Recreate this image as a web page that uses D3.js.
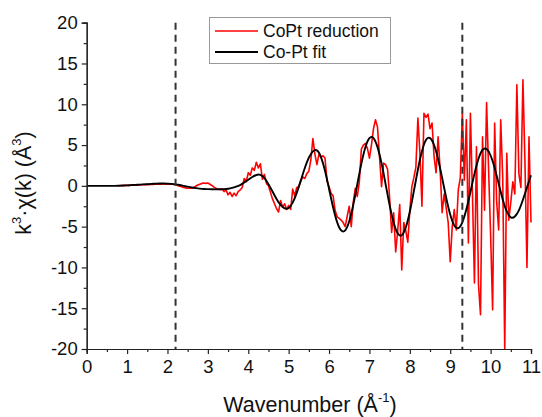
<!DOCTYPE html>
<html>
<head>
<meta charset="utf-8">
<script src="https://cdn.jsdelivr.net/npm/d3@7/dist/d3.min.js"></script>
<style>
  body { margin: 0; background: #fff; }
  text { font-family: Arial, "Liberation Sans", sans-serif; fill: #111; }
</style>
</head>
<body>
<svg id="chart" width="542" height="417"></svg>
<script>
// Measured EXAFS signal, sampled on a uniform k grid
const reductionStart = 0.8;
const reductionStep = 0.05;
const reductionValues = [
  0.02, 0.05, 0.03, 0.06, 0.08, 0.05, 0.10, 0.07, 0.12, 0.09,
  0.14, 0.11, 0.16, 0.13, 0.18, 0.15, 0.20, 0.17, 0.22, 0.19,
  0.24, 0.20, 0.25, 0.21, 0.24, 0.20, 0.22, 0.18, 0.15,
  0.05, -0.05, -0.12, -0.20, -0.25, -0.30, -0.30, -0.28, -0.20, -0.05,
  0.10, 0.20, 0.30, 0.35, 0.30, 0.35, 0.20, 0.05, -0.15, -0.30,
  -0.40, -0.45, -0.40, -0.70, -0.50, -1.10, -0.80, -1.30, -0.90, -1.20,
  -0.70, -0.50,
  -0.20, 0.90, 0.50, 1.60, 1.30, 2.20, 1.90, 2.90, 2.20, 2.70, 0.80, 1.40, 0.30, 0.00,
  -0.80, -1.60, -2.20, -2.80, -3.20, -1.80, -2.60, -2.20, -2.90, -2.40, -2.90, -0.40, -1.20, -0.20,
  -0.10, 0.60, 1.10, 0.90, 1.50, 1.80, 3.20, 5.80, 3.90, 2.60,
  3.90, 3.50, 3.70, 3.40, 0.60, -0.10, -0.90, -1.20, -3.00, -3.80,
  -4.00, -4.20, -4.50, -5.00, -3.70, -2.50,
  -5.00, -2.00, -0.30, -1.30, 0.50, 4.50, 5.00, 5.20, 4.60, 3.40,
  5.00, 7.00, 8.10, 7.20, 3.50, -0.10, 2.80, 2.60, 2.00, -1.50,
  -5.70, -3.30, -8.10, -5.50, -2.30, -10.30, -4.50, -5.50, -6.90, -3.00,
  -0.10, 1.00, 2.30, 8.30, 4.00, -2.50, 8.90, 8.40, 8.80, 7.00,
  7.70, 3.60, 1.60, 6.00, 2.00, -3.30, -1.00, -2.70, -4.50, -9.30,
  -5.00, -2.90, -5.40, -0.50, 1.00, 8.90,
  0.70, 8.10, -7.00, 8.90, -0.90, -11.90, 4.80, -12.10, -15.80, 6.00,
  -3.00, 10.20, 2.00, -6.00, -15.20, 7.70, -2.00, -5.40, 8.10, 1.00,
  -20.00, 4.00, -4.20, -2.00, 0.50, -1.00, 12.40, 1.50, -0.20, 13.00,
  3.00, -10.00, 6.00, -4.50
];

// Single-shell Co-Pt model
const fitStart = 0;
const fitStep = 0.1;
const fitValues = [
  0, 0, 0, 0, 0, 0, 0, 0, 0.02, 0.04,
  0.06, 0.09, 0.12, 0.15, 0.18, 0.21, 0.24, 0.26, 0.28, 0.28,
  0.27, 0.24, 0.18, 0.10, 0.00, -0.10, -0.20, -0.28, -0.34, -0.38,
  -0.40, -0.42, -0.43, -0.42, -0.40, -0.35, -0.25, -0.10, 0.10, 0.40,
  0.75, 1.08, 1.33, 1.35, 0.94, 0.21, -0.70, -1.61, -2.34, -2.75,
  -2.71, -2.06, -0.86, 0.64, 2.18, 3.45, 4.23, 4.35, 3.53, 1.84,
  -0.37, -2.62, -4.45, -5.47, -5.46, -4.34, -2.32, 0.20, 2.72, 4.74,
  5.85, 5.86, 4.75, 2.75, 0.22, -2.37, -4.51, -5.82, -6.05, -5.11,
  -3.18, -0.64, 2.01, 4.24, 5.61, 5.85, 5.01, 3.27, 0.96, -1.46,
  -3.52, -4.86, -5.18, -4.47, -2.88, -0.75, 1.47, 3.32, 4.41, 4.52,
  3.72, 2.18, 0.25, -1.66, -3.14, -3.86, -3.75, -3.00, -1.70, -0.20,
  1.30
];

// Fourier-transform window limits
const windowEdges = [2.2, 9.3];

const xTickValues = [0, 1, 2, 3, 4, 5, 6, 7, 8, 9, 10, 11];
const xMinorTicks = [0.5, 1.5, 2.5, 3.5, 4.5, 5.5, 6.5, 7.5, 8.5, 9.5, 10.5];
const yTickValues = [-20, -15, -10, -5, 0, 5, 10, 15, 20];
const yMinorTicks = [-17.5, -12.5, -7.5, -2.5, 2.5, 7.5, 12.5, 17.5];

const seriesNames = ["CoPt reduction", "Co-Pt fit"];
const seriesColors = ["#ff0000", "#000000"];

const svg = d3.select("#chart");
const plot = { left: 86.7, right: 531, top: 22.7, bottom: 349 };

const x = d3.scaleLinear().domain([0, 11]).range([plot.left, plot.right]);
const y = d3.scaleLinear().domain([-20, 20]).range([plot.bottom, plot.top]);

const reduction = reductionValues.map((v, i) => ({ k: reductionStart + i * reductionStep, v }));
const fit = fitValues.map((v, i) => ({ k: fitStart + i * fitStep, v }));

// curves
svg.append("path")
  .datum(reduction)
  .attr("fill", "none")
  .attr("stroke", seriesColors[0])
  .attr("stroke-width", 1.6)
  .attr("stroke-linejoin", "round")
  .attr("d", d3.line().x(d => x(d.k)).y(d => y(d.v)));

svg.append("path")
  .datum(fit)
  .attr("fill", "none")
  .attr("stroke", seriesColors[1])
  .attr("stroke-width", 1.9)
  .attr("d", d3.line().curve(d3.curveNatural).x(d => x(d.k)).y(d => y(d.v)));

// window markers
svg.selectAll("line.window")
  .data(windowEdges)
  .join("line")
  .attr("class", "window")
  .attr("x1", d => x(d)).attr("x2", d => x(d))
  .attr("y1", plot.top).attr("y2", plot.bottom)
  .attr("stroke", "#333")
  .attr("stroke-width", 2)
  .attr("stroke-dasharray", "7,5");

// axes
function styleAxis(g) {
  g.selectAll(".domain").attr("stroke", "#222").attr("stroke-width", 1.2);
  g.selectAll(".tick line").attr("stroke", "#222").attr("stroke-width", 1.2);
  g.selectAll(".tick text")
    .attr("font-size", 18.5)
    .attr("font-family", "Arial, 'Liberation Sans', sans-serif")
    .attr("fill", "#111");
}

svg.append("g")
  .attr("transform", `translate(0,${plot.bottom})`)
  .call(d3.axisBottom(x).tickValues(xMinorTicks).tickSize(3).tickFormat(""))
  .call(styleAxis);
svg.append("g")
  .attr("transform", `translate(0,${plot.bottom})`)
  .call(d3.axisBottom(x).tickValues(xTickValues).tickSize(5).tickPadding(6).tickFormat(d3.format("d")))
  .call(styleAxis);

svg.append("g")
  .attr("transform", `translate(${plot.left},0)`)
  .call(d3.axisLeft(y).tickValues(yMinorTicks).tickSize(3).tickFormat(""))
  .call(styleAxis);
svg.append("g")
  .attr("transform", `translate(${plot.left},0)`)
  .call(d3.axisLeft(y).tickValues(yTickValues).tickSize(5).tickPadding(4).tickFormat(d => d < 0 ? "-" + Math.abs(d) : String(d)))
  .call(styleAxis);

// axis titles
const xTitle = svg.append("text")
  .attr("x", 310).attr("y", 412)
  .attr("text-anchor", "middle")
  .attr("font-size", 21.5);
xTitle.append("tspan").text("Wavenumber (Å");
xTitle.append("tspan").attr("font-size", 13).attr("dy", -10).text("-1");
xTitle.append("tspan").attr("dy", 10).text(")");

const yTitle = svg.append("text")
  .attr("transform", `translate(31,${183}) rotate(-90)`)
  .attr("text-anchor", "middle")
  .attr("font-size", 21.5);
yTitle.append("tspan").text("k");
yTitle.append("tspan").attr("font-size", 13).attr("dy", -10).text("3");
yTitle.append("tspan").attr("dy", 10).text("·χ(k) (Å");
yTitle.append("tspan").attr("font-size", 13).attr("dy", -10).text("3");
yTitle.append("tspan").attr("dy", 10).text(")");

// legend
const legend = svg.append("g");
legend.append("rect")
  .attr("x", 209.5).attr("y", 17.5)
  .attr("width", 181).attr("height", 46)
  .attr("fill", "#fff")
  .attr("stroke", "#999")
  .attr("stroke-width", 1);
seriesNames.forEach((name, i) => {
  const rowY = 31 + i * 21;
  legend.append("line")
    .attr("x1", 215).attr("x2", 258)
    .attr("y1", rowY).attr("y2", rowY)
    .attr("stroke", seriesColors[i])
    .attr("stroke-width", i === 0 ? 1.5 : 2);
  legend.append("text")
    .attr("x", 263).attr("y", rowY + 6)
    .attr("font-size", 17.5)
    .text(name);
});
</script>
</body>
</html>
